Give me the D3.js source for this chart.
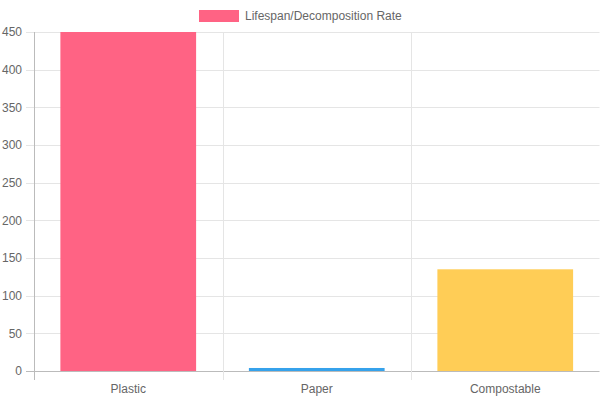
<!DOCTYPE html>
<html>
<head>
<meta charset="utf-8">
<script src="https://cdn.jsdelivr.net/npm/d3@7"></script>
<style>
  body { margin: 0; background: #fff; }
  svg { display: block; font-family: "Liberation Sans", Arial, sans-serif; }
</style>
</head>
<body>
<div id="chart"></div>
<script>
// Data
const categories = ['Plastic', 'Paper', 'Compostable'];
const values = [450, 4, 135];
const barColors = ['#ff6384', '#36a2eb', '#ffcd56'];
const yTicks = [0, 50, 100, 150, 200, 250, 300, 350, 400, 450];
const seriesLabel = 'Lifespan/Decomposition Rate';

const width = 600;
const height = 400;
const margin = { top: 32, right: 0.5, bottom: 29, left: 34 };

const svg = d3.select('#chart')
  .append('svg')
  .attr('width', width)
  .attr('height', height);

const x = d3.scaleBand()
  .domain(categories)
  .range([margin.left, width - margin.right])
  .paddingInner(0)
  .paddingOuter(0);

const y = d3.scaleLinear()
  .domain([0, 450])
  .range([height - margin.bottom, margin.top]);

// Horizontal grid
svg.append('g')
  .selectAll('line')
  .data(yTicks)
  .enter().append('line')
  .attr('x1', margin.left - 8)
  .attr('x2', width - margin.right)
  .attr('y1', d => Math.round(y(d)) + 0.5)
  .attr('y2', d => Math.round(y(d)) + 0.5)
  .attr('stroke', d => d === 0 ? '#bbb' : '#e5e5e5')
  .attr('stroke-width', 1);

// Vertical grid (category boundaries)
const bounds = categories.map(c => x(c)).concat([x(categories[categories.length - 1]) + x.bandwidth()]);
svg.append('g')
  .selectAll('line')
  .data(bounds)
  .enter().append('line')
  .attr('x1', d => Math.round(d) + 0.5)
  .attr('x2', d => Math.round(d) + 0.5)
  .attr('y1', margin.top)
  .attr('y2', height - margin.bottom + 9)
  .attr('stroke', (d, i) => i === 0 ? '#bbb' : '#e5e5e5')
  .attr('stroke-width', 1);

// Bars
const barW = x.bandwidth() * 0.72;
svg.append('g')
  .selectAll('rect')
  .data(values)
  .enter().append('rect')
  .attr('x', (d, i) => x(categories[i]) + (x.bandwidth() - barW) / 2)
  .attr('y', d => y(d))
  .attr('width', barW)
  .attr('height', d => y(0) - y(d))
  .attr('fill', (d, i) => barColors[i]);

// Y labels
svg.append('g')
  .selectAll('text')
  .data(yTicks)
  .enter().append('text')
  .attr('x', margin.left - 12)
  .attr('y', d => y(d))
  .attr('dy', '0.35em')
  .attr('text-anchor', 'end')
  .attr('font-size', 12)
  .attr('fill', '#666')
  .text(d => d);

// X labels
svg.append('g')
  .selectAll('text')
  .data(categories)
  .enter().append('text')
  .attr('x', d => x(d) + x.bandwidth() / 2)
  .attr('y', height - margin.bottom + 18)
  .attr('dy', '0.35em')
  .attr('text-anchor', 'middle')
  .attr('font-size', 12)
  .attr('fill', '#666')
  .text(d => d);

// Legend
const legend = svg.append('g');
legend.append('rect')
  .attr('x', 199)
  .attr('y', 10)
  .attr('width', 40)
  .attr('height', 12)
  .attr('fill', barColors[0]);
legend.append('text')
  .attr('x', 245)
  .attr('y', 16)
  .attr('dy', '0.35em')
  .attr('font-size', 12)
  .attr('fill', '#666')
  .text(seriesLabel);
</script>
</body>
</html>
